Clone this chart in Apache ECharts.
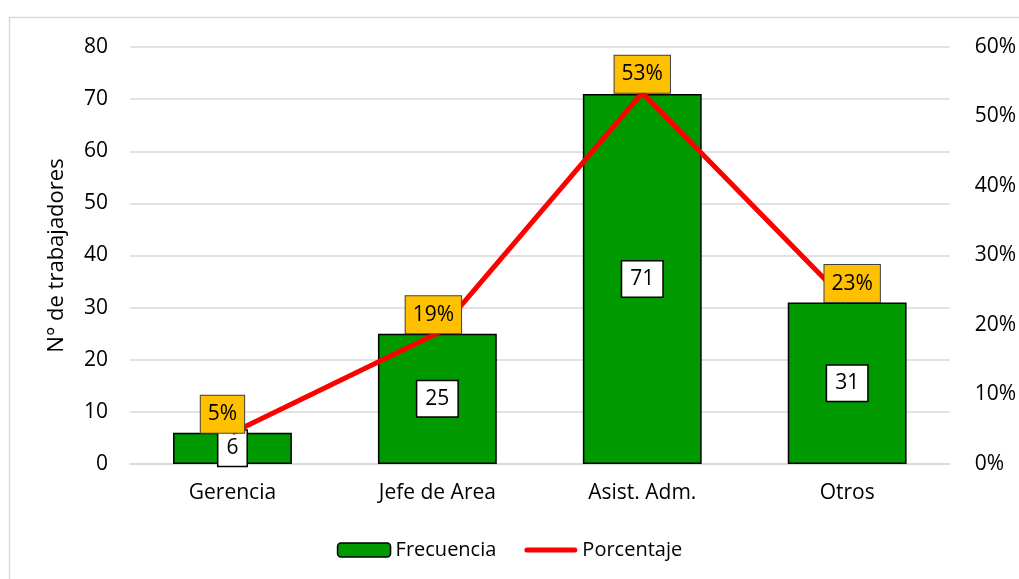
<!DOCTYPE html>
<html>
<head>
<meta charset="utf-8">
<script src="https://cdn.jsdelivr.net/npm/echarts@6/dist/echarts.min.js"></script>
<style>html,body{margin:0;padding:0;background:#fff}#c{width:1019px;height:579px}</style>
</head>
<body>
<div id="c"></div>
<script>
const categories = ['Gerencia', 'Jefe de Area', 'Asist. Adm.', 'Otros'];
const frecuencia = [6, 25, 71, 31];
const porcentaje = [4.5, 18.8, 53.4, 23.3];
const leftTicks = { min: 0, max: 80, interval: 10 };
const rightTicks = { min: 0, max: 60, interval: 10 };

const FONT = 'Open Sans';
const pctLabelShift = [-10, -4, 0, 5];
const chart = echarts.init(document.getElementById('c'));
chart.setOption({
  animation: false,
  textStyle: { fontFamily: FONT },
  graphic: [{
    type: 'rect', silent: true, z: -1,
    shape: { x: 9.5, y: 17.5, width: 1040, height: 600 },
    style: { fill: 'none', stroke: '#d9d9d9', lineWidth: 1.5 }
  }],
  grid: { left: 130, right: 69, top: 47, bottom: 115 },
  legend: {
    bottom: 14, left: 'center', itemWidth: 53, itemHeight: 14, itemGap: 28,
    textStyle: { fontSize: 20, color: '#000', fontFamily: FONT },
    data: [
      { name: 'Frecuencia', itemStyle: { color: '#009900', borderColor: '#000', borderWidth: 1.5 } },
      { name: 'Porcentaje', icon: 'path://M2.5,0 L50.5,0 A2.5,2.5 0 0 1 50.5,5 L2.5,5 A2.5,2.5 0 0 1 2.5,0 Z',
        itemStyle: { color: '#ff0000', borderWidth: 0 } }
    ]
  },
  xAxis: {
    type: 'category', data: categories,
    axisLine: { lineStyle: { color: '#d9d9d9', width: 1.5 } },
    axisTick: { show: false },
    axisLabel: { fontSize: 21, color: '#000', margin: 19, fontFamily: FONT }
  },
  yAxis: [{
    type: 'value', min: leftTicks.min, max: leftTicks.max, interval: leftTicks.interval,
    name: 'N° de trabajadores', nameLocation: 'middle', nameGap: 62, nameRotate: 90,
    nameTextStyle: { fontSize: 22, color: '#000', fontFamily: FONT },
    axisLabel: { fontSize: 21, color: '#000', margin: 22, fontFamily: FONT },
    splitLine: { lineStyle: { color: '#d9d9d9', width: 1.5 } },
    axisLine: { show: false }, axisTick: { show: false }
  }, {
    type: 'value', min: rightTicks.min, max: rightTicks.max, interval: rightTicks.interval,
    axisLabel: { fontSize: 21, color: '#000', margin: 25, formatter: '{value}%', fontFamily: FONT },
    splitLine: { show: false }, axisLine: { show: false }, axisTick: { show: false }
  }],
  series: [{
    name: 'Frecuencia', type: 'bar', data: frecuencia, barWidth: '58%',
    itemStyle: { color: '#009900', borderColor: '#000', borderWidth: 1.5 },
    label: {
      show: true, position: 'inside', fontSize: 21, color: '#000', fontFamily: FONT,
      backgroundColor: '#fff', borderColor: '#000', borderWidth: 1.5, padding: [7, 8]
    }
  }, {
    name: 'Porcentaje', type: 'line', yAxisIndex: 1,
    data: porcentaje.map((v, i) => ({ value: v, label: { offset: [pctLabelShift[i], 0] } })),
    symbol: 'circle', symbolSize: 0, showSymbol: true, z: 5,
    lineStyle: { color: '#ff0000', width: 5 }, itemStyle: { color: '#ff0000' },
    label: {
      show: true, position: 'top', distance: 0, fontSize: 21, color: '#000', fontFamily: FONT,
      backgroundColor: '#ffc000', borderColor: '#404040', borderWidth: 1, padding: [8, 7],
      formatter: p => Math.round(p.value) + '%'
    }
  }]
});
</script>
</body>
</html>
